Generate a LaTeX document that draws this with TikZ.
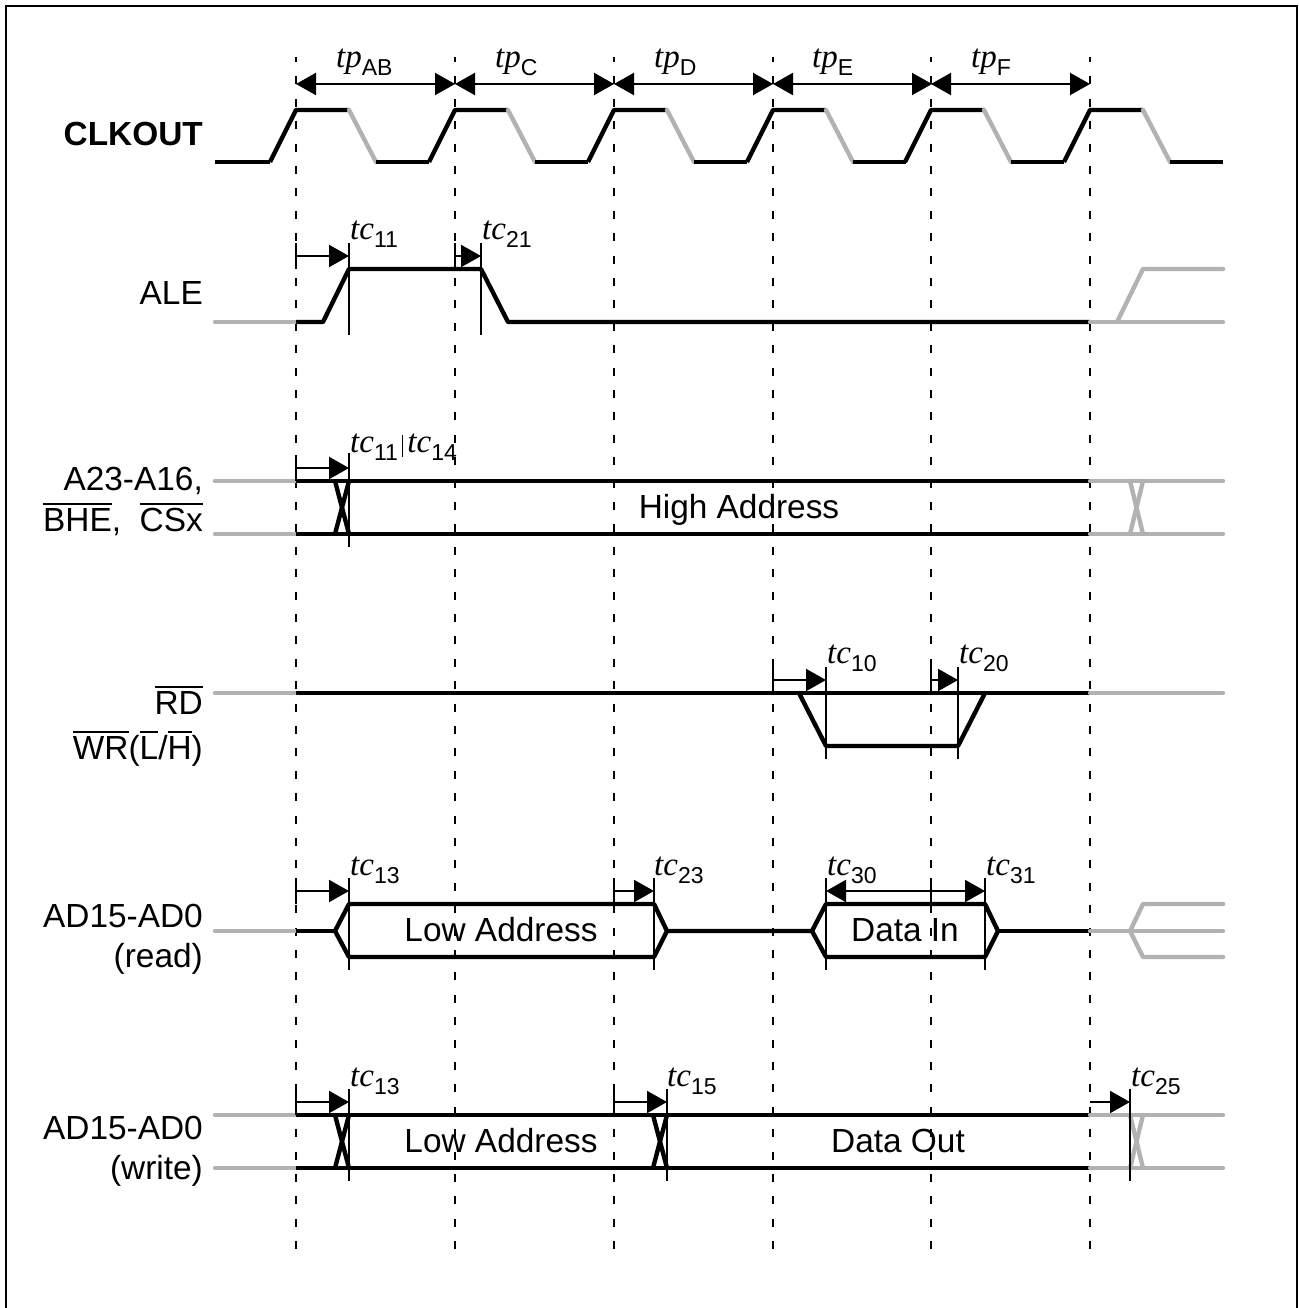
\documentclass[tikz,border=0pt]{standalone}
\usepackage{fontspec}
\setmainfont{Liberation Sans}
\newfontfamily\timesit[Ligatures=TeX]{Liberation Serif Italic}
\usetikzlibrary{arrows.meta}
\newcommand{\ovl}[1]{\leavevmode\vbox{\hrule height 2pt\kern 3pt\hbox{#1}}}
\newcommand{\tlab}[2]{{\fontsize{33}{38}\selectfont\timesit #1}\raisebox{-8pt}{\fontsize{23}{26}\selectfont #2}}
\tikzset{
  sig/.style={line width=4.4pt,line join=round},
  greysig/.style={sig,color=black!30,line cap=round},
  thin line/.style={line width=2.2pt},
  grid line/.style={line width=2.4pt,dash pattern=on 8pt off 14.4pt,dash phase=3pt},
  delay/.style={line width=2.2pt,-{Triangle[length=20pt,width=22pt]}},
  both delay/.style={line width=2.2pt,{Triangle[length=20pt,width=22pt]}-{Triangle[length=20pt,width=22pt]}},
  name lab/.style={anchor=base east,inner sep=0pt,font=\fontsize{33.4}{38}\selectfont},
  mid lab/.style={anchor=base,inner sep=0pt,font=\fontsize{33.4}{38}\selectfont},
  time lab/.style={anchor=base west,inner sep=0pt}
}
\begin{document}
\begin{tikzpicture}[x=1pt,y=-1pt]
\useasboundingbox(0,0)rectangle(1298,1308);
\draw[line width=2.6pt](6,1308)--(6,6)--(1297,6)--(1297,1308);
\foreach \x in {296,455,614,773,931,1090}
  \draw[grid line](\x,57)--(\x,1250);

% clock
\foreach \x in {296,455,614,773,931,1090}{
  \draw[sig](\x-26,162)--(\x,110)--(\x+53,110);
  \draw[greysig](\x+53,110)--(\x+80,162);
}
\foreach \x in {376,535,694,853,1011}
  \draw[sig](\x,162)--(\x+53,162);
\draw[sig](215,162)--(270,162);
\draw[sig](1170,162)--(1223,162);
\foreach \x in {296,455,614,773,931}
  \draw[both delay](\x,84)--(\x+159,84);
\node[time lab](tpab)at(336,68){\tlab{tp}{AB}};
\node[time lab](tpc)at(495,68){\tlab{tp}{C}};
\node[time lab](tpd)at(654,68){\tlab{tp}{D}};
\node[time lab](tpe)at(812,68){\tlab{tp}{E}};
\node[time lab](tpf)at(971,68){\tlab{tp}{F}};
\node[name lab,font=\fontsize{33.4}{38}\selectfont\bfseries](clkout)at(203,146){CLKOUT};

% ALE
\draw[greysig](215,322)--(296,322);
\draw[sig](296,322)--(323,322)--(349,269)--(481,269)--(508,322)--(1090,322);
\draw[greysig](1090,322)--(1223,322);
\draw[greysig](1117,322)--(1143,269)--(1223,269);
\draw[thin line](349,243)--(349,335);
\draw[thin line](481,243)--(481,335);
\draw[thin line](296,243)--(296,269);
\draw[thin line](455,243)--(455,269);
\draw[delay](296,256)--(349,256);
\draw[delay](455,256)--(481,256);
\node[time lab](tcale)at(350,239){\tlab{tc}{11}};
\node[time lab](tcalb)at(482,239){\tlab{tc}{21}};
\node[name lab](ale)at(203,304){ALE};

% high address
\foreach \y in {481,534}{
  \draw[greysig](215,\y)--(296,\y);
  \draw[sig](296,\y)--(1090,\y);
  \draw[greysig](1090,\y)--(1223,\y);
}
\draw[sig](335,481)--(349,534);
\draw[sig](349,481)--(335,534);
\draw[greysig](1130,481)--(1143,534);
\draw[greysig](1143,481)--(1130,534);
\draw[thin line](349,453)--(349,547);
\draw[thin line](296,455)--(296,481);
\draw[delay](296,468)--(349,468);
\node[time lab](tchigh)at(350,452){\tlab{tc}{11}\kern4pt\rule[-5pt]{1.6pt}{22pt}\kern4pt\tlab{tc}{14}};
\node[mid lab](high)at(739,518){High Address};
\node[name lab](aline)at(203,490){A23-A16,};
\node[name lab](bline)at(203,531){\ovl{BHE}, \ \ovl{CSx}};

% read strobe
\draw[greysig](215,693)--(296,693);
\draw[sig](296,693)--(1090,693);
\draw[greysig](1090,693)--(1223,693);
\draw[sig](799,693)--(826,746)--(958,746)--(985,693);
\draw[thin line](826,667)--(826,759);
\draw[thin line](958,667)--(958,759);
\draw[thin line](773,667)--(773,693);
\draw[thin line](931,667)--(931,693);
\draw[delay](773,680)--(826,680);
\draw[delay](931,680)--(958,680);
\node[time lab](tcrda)at(827,663){\tlab{tc}{10}};
\node[time lab](tcrdb)at(959,663){\tlab{tc}{20}};
\node[name lab](rd)at(203,714){\ovl{RD}};
\node[name lab](wr)at(203,759){\ovl{WR}(\ovl{L}/\ovl{H})};

% AD read
\draw[greysig](215,931)--(296,931);
\draw[sig](296,931)--(335,931);
\draw[sig](335,931)--(349,904)--(654,904)--(667,931)--(654,957)--(349,957)--(335,931);
\draw[sig](667,931)--(812,931)--(826,904)--(985,904)--(998,931)--(985,957)--(826,957)--(812,931);
\draw[sig](998,931)--(1090,931);
\draw[greysig](1090,931)--(1223,931);
\draw[greysig](1223,904)--(1143,904)--(1130,931)--(1143,957)--(1223,957);
\foreach \x in {349,654,826,985}
  \draw[thin line](\x,878)--(\x,970);
\draw[thin line](296,878)--(296,904);
\draw[thin line](614,878)--(614,904);
\draw[thin line](931,878)--(931,904);
\draw[delay](296,891)--(349,891);
\draw[delay](614,891)--(654,891);
\draw[both delay](826,891)--(985,891);
\node[time lab](tcrla)at(350,875){\tlab{tc}{13}};
\node[time lab](tcrlb)at(654,875){\tlab{tc}{23}};
\node[time lab](tcrdi)at(827,875){\tlab{tc}{30}};
\node[time lab](tcrdo)at(986,875){\tlab{tc}{31}};
\node[mid lab](lowr)at(501,941){Low Address};
\node[mid lab](datain)at(905,941){Data In};
\node[name lab](adr)at(203,927){AD15-AD0};
\node[name lab](read)at(203,967){(read)};

% AD write
\foreach \y in {1115,1168}{
  \draw[greysig](215,\y)--(296,\y);
  \draw[sig](296,\y)--(1090,\y);
  \draw[greysig](1090,\y)--(1223,\y);
}
\foreach \x in {335,653}{
  \draw[sig](\x,1115)--(\x+14,1168);
  \draw[sig](\x+14,1115)--(\x,1168);
}
\draw[greysig](1130,1115)--(1143,1168);
\draw[greysig](1143,1115)--(1130,1168);
\foreach \x in {349,667,1130}
  \draw[thin line](\x,1089)--(\x,1181);
\draw[thin line](296,1089)--(296,1115);
\draw[thin line](614,1089)--(614,1115);
\draw[delay](296,1102)--(349,1102);
\draw[delay](614,1102)--(667,1102);
\draw[delay](1090,1102)--(1130,1102);
\node[time lab](tcwla)at(350,1086){\tlab{tc}{13}};
\node[time lab](tcwlb)at(667,1086){\tlab{tc}{15}};
\node[time lab](tcwdo)at(1131,1086){\tlab{tc}{25}};
\node[mid lab](loww)at(501,1152){Low Address};
\node[mid lab](dataout)at(898,1152){Data Out};
\node[name lab](adw)at(203,1139){AD15-AD0};
\node[name lab](write)at(203,1179){(write)};
\end{tikzpicture}
\end{document}
